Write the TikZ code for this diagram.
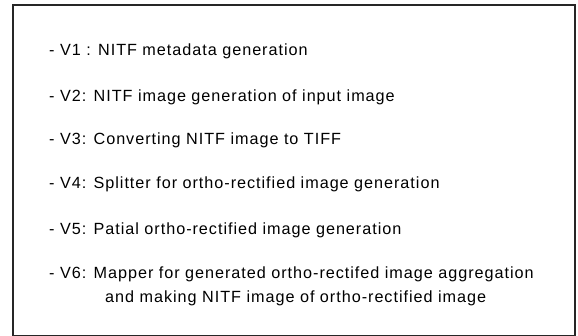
\documentclass[tikz,border=0pt]{standalone}
\usepackage{fontspec}
\setmainfont{Liberation Sans}[LetterSpace=6.0]
\begin{document}
\begin{tikzpicture}[x=1pt,y=-1pt,
  line/.style={anchor=base west,inner sep=0pt,font=\fontsize{16.2}{19}\selectfont,text=black},
  frame/.style={draw=black!85,line width=2pt}]
\useasboundingbox[fill=white] (0,0) rectangle (578,336);
\draw[frame] (12.5,5.5) rectangle (574.5,336.5);
\node[line] (v1) at (49,56) {- V1 : NITF metadata generation};
\node[line] (v2) at (49,102) {- V2: NITF image generation of input image};
\node[line] (v3) at (49,145) {- V3: Converting NITF image to TIFF};
\node[line] (v4) at (49,188.5) {- V4: Splitter for ortho-rectified image generation};
\node[line] (v5) at (49,234.5) {- V5: Patial ortho-rectified image generation};
\node[line] (v6) at (49,279) {- V6: Mapper for generated ortho-rectifed image aggregation};
\node[line] (v6b) at (105,302.5) {and making NITF image of ortho-rectified image};
\end{tikzpicture}
\end{document}
